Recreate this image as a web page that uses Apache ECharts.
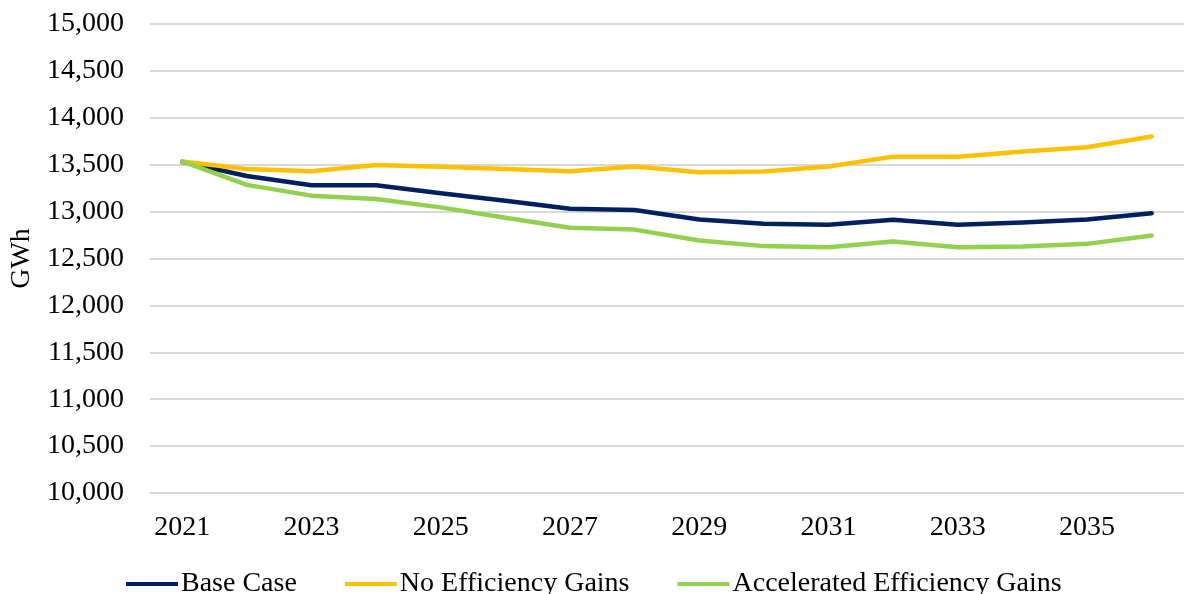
<!DOCTYPE html>
<html>
<head>
<meta charset="utf-8">
<title>Electricity Sales Forecast</title>
<script src="https://cdn.jsdelivr.net/npm/echarts@6/dist/echarts.min.js"></script>
<style>
  html, body { margin: 0; padding: 0; background: #ffffff; }
  #chart { width: 1184px; height: 594px; }
</style>
</head>
<body>
<div id="chart"></div>
<script>
// Annual energy forecast (GWh), 2021–2036
const years = ['2021','2022','2023','2024','2025','2026','2027','2028',
               '2029','2030','2031','2032','2033','2034','2035','2036'];

const baseCase = [13530, 13380, 13280, 13280, 13195, 13115, 13030, 13018,
                  12915, 12870, 12860, 12912, 12860, 12885, 12915, 12982];

const noEfficiencyGains = [13535, 13455, 13430, 13497, 13478, 13455, 13430, 13482,
                           13420, 13427, 13480, 13586, 13586, 13640, 13686, 13800];

const acceleratedEfficiencyGains = [13535, 13285, 13170, 13135, 13045, 12935, 12828, 12808,
                                    12692, 12632, 12620, 12680, 12620, 12628, 12656, 12745];

const yMin = 10000;
const yMax = 15000;
const yStep = 500;

const FONT = '"Liberation Serif", "Times New Roman", serif';

const chart = echarts.init(document.getElementById('chart'), null, { renderer: 'canvas' });

const lineSeries = (name, data, color) => ({
  name: name,
  type: 'line',
  data: data,
  symbol: 'none',
  smooth: false,
  lineStyle: { color: color, width: 4.5, cap: 'round', join: 'round' },
  itemStyle: { color: color },
  emphasis: { disabled: true }
});

chart.setOption({
  animation: false,
  backgroundColor: '#ffffff',
  textStyle: { fontFamily: FONT },
  grid: { left: 147, top: 24, bottom: 101, width: 1050, containLabel: false },
  xAxis: {
    type: 'category',
    data: years,
    boundaryGap: true,
    axisLine: { show: false },
    axisTick: { show: false },
    axisLabel: {
      interval: 1,
      margin: 21,
      color: '#000',
      fontFamily: FONT,
      fontSize: 28
    },
    splitLine: { show: false }
  },
  yAxis: {
    type: 'value',
    min: yMin,
    max: yMax,
    interval: yStep,
    name: 'GWh',
    nameLocation: 'middle',
    nameRotate: 90,
    nameGap: 110,
    nameTextStyle: { color: '#000', fontFamily: FONT, fontSize: 28 },
    axisLine: { show: false },
    axisTick: { show: false },
    axisLabel: {
      margin: 26,
      color: '#000',
      fontFamily: FONT,
      fontSize: 28,
      formatter: v => v.toLocaleString('en-US')
    },
    splitLine: { show: true, lineStyle: { color: '#d9d9d9', width: 2 } }
  },
  legend: {
    left: 121,
    top: 565,
    itemGap: 48,
    itemWidth: 52,
    itemHeight: 4,
    icon: 'rect',
    textStyle: { color: '#000', fontFamily: FONT, fontSize: 28, padding: [0, 0, 0, -2] },
    data: ['Base Case', 'No Efficiency Gains', 'Accelerated Efficiency Gains']
  },
  series: [
    lineSeries('Base Case', baseCase, '#002060'),
    lineSeries('No Efficiency Gains', noEfficiencyGains, '#FFC000'),
    lineSeries('Accelerated Efficiency Gains', acceleratedEfficiencyGains, '#92D050')
  ]
});
</script>
</body>
</html>
